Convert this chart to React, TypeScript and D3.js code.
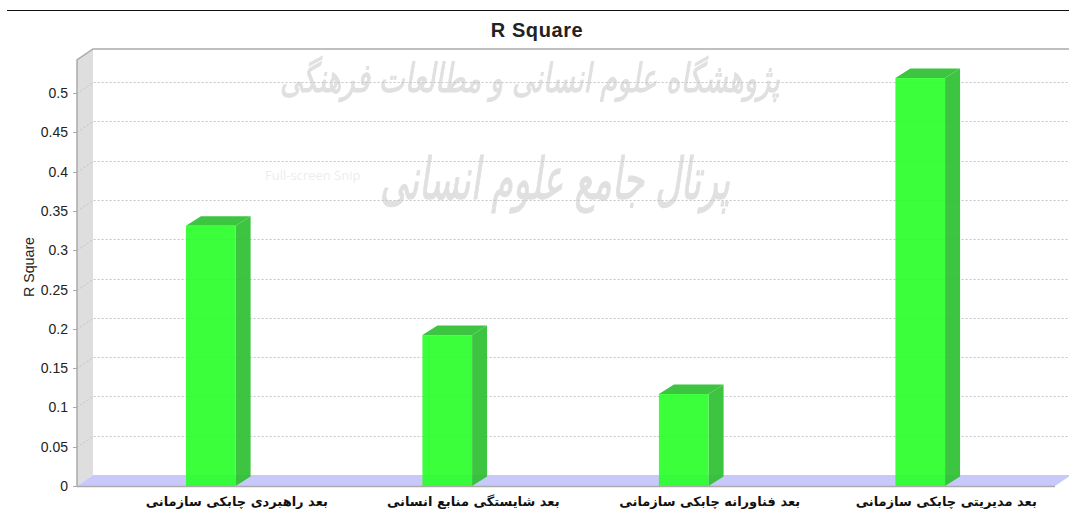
import * as d3 from 'd3';

const categories = [
  'بعد راهبردی چابکی سازمانی',
  'بعد شایستگی منابع انسانی',
  'بعد فناورانه چابکی سازمانی',
  'بعد مدیریتی چابکی سازمانی',
];
const rSquare = [0.331, 0.192, 0.117, 0.519];
const yTicks = [0, 0.05, 0.1, 0.15, 0.2, 0.25, 0.3, 0.35, 0.4, 0.45, 0.5];
const watermarkLines = ['پژوهشگاه علوم انسانی و مطالعات فرهنگی', 'پرتال جامع علوم انسانی'];

const width = 1069;
const height = 511;
const depthX = 16;
const depthY = 11;
const barDepthX = 15;
const barDepthY = 9.5;
const left = 77;
const right = 1055;
const baseY = 486;
const topY = 60;

const y = d3.scaleLinear().domain([0, 0.5]).range([baseY, 93]);
const x = d3.scaleBand<string>().domain(categories).range([93, 1038]).paddingInner(0.79).paddingOuter(0.393);
const labelShift = 26;

const points = (p: number[][]) => p.map(d => d.join(',')).join(' ');

export default function App() {
  return (
    <svg
      width={width}
      height={height}
      style={{ position: 'absolute', left: 0, top: 0, background: '#fff' }}
      fontFamily="'Liberation Sans', Arial, sans-serif"
    >
      <defs>
        <filter id="soft">
          <feGaussianBlur stdDeviation="0.7" />
        </filter>
      </defs>
      <line x1={7} x2={width} y1={10.5} y2={10.5} stroke="#111" strokeWidth={1} />

      {/* faint scan watermark */}
      <g
        fill="#e0e0e0"
        stroke="#e0e0e0"
        strokeWidth={1}
        filter="url(#soft)"
        fontFamily="'DejaVu Sans'"
        fontStyle="italic"
        textAnchor="middle"
        direction="rtl"
      >
        <text x={530} y={92} fontSize={40} textLength={500} lengthAdjust="spacingAndGlyphs">{watermarkLines[0]}</text>
        <text x={555} y={199} fontSize={58} textLength={350} lengthAdjust="spacingAndGlyphs">{watermarkLines[1]}</text>
      </g>
      <text x={265} y={180} fontFamily="'Open Sans'" fontSize={13} fill="#f0ecec">Full-screen Snip</text>

      {/* walls and floor */}
      <polygon
        points={points([[left, topY], [left + depthX, topY - depthY], [left + depthX, baseY - depthY], [left, baseY]])}
        fill="#dedede"
      />
      <polygon
        points={points([[left, baseY], [left + depthX, baseY - depthY], [right + depthX, baseY - depthY], [right, baseY]])}
        fill="#c8c8fb"
      />

      {yTicks.map(t => {
        const ty = Math.round(y(t)) + 0.5;
        return (
          <g key={t}>
            {t > 0 && (
              <path
                d={`M${left},${ty}L${left + depthX},${ty - depthY}H${width}`}
                fill="none"
                stroke="#c4c4c4"
                strokeDasharray="2 2"
              />
            )}
            <line x1={left - 4} x2={left} y1={ty} y2={ty} stroke="#aaa" />
            <text x={68} y={y(t) + 5} textAnchor="end" fontSize={14} fill="#222">
              {t}
            </text>
          </g>
        );
      })}

      <path
        d={`M${left},${baseY}V${topY}L${left + depthX},${topY - depthY}H${width}`}
        fill="none"
        stroke="#aaa"
        strokeWidth={1.5}
      />
      <line x1={left} x2={right} y1={baseY + 0.5} y2={baseY + 0.5} stroke="#aaa" strokeWidth={1.5} />

      {/* bars */}
      {categories.map((c, i) => {
        const x0 = x(c)!;
        const x1 = x0 + x.bandwidth();
        const top = y(rSquare[i]);
        return (
          <g key={c} opacity={0.93}>
            <polygon
              points={points([[x1, baseY], [x1 + barDepthX, baseY - barDepthY], [x1 + barDepthX, top - barDepthY], [x1, top]])}
              fill="#2fc033"
            />
            <polygon
              points={points([[x0, top], [x0 + barDepthX, top - barDepthY], [x1 + barDepthX, top - barDepthY], [x1, top]])}
              fill="#2fc033"
            />
            <rect x={x0} y={top} width={x.bandwidth()} height={baseY - top} fill="#2cff2c" />
          </g>
        );
      })}

      {categories.map(c => (
        <text
          key={c}
          x={x(c)! + x.bandwidth() / 2 + labelShift}
          y={506}
          textAnchor="middle"
          direction="rtl"
          fontFamily="'DejaVu Sans'"
          fontWeight="bold"
          fontSize={13}
          fill="#111"
        >
          {c}
        </text>
      ))}

      <text x={537} y={37} textAnchor="middle" fontSize={20} fontWeight="bold" letterSpacing={0.6} fill="#222">R Square</text>
      <text
        transform="translate(34,267) rotate(-90)"
        textAnchor="middle"
        fontSize={14}
        fill="#222"
        textLength={60}
        lengthAdjust="spacingAndGlyphs"
      >
        R Square
      </text>
    </svg>
  );
}
